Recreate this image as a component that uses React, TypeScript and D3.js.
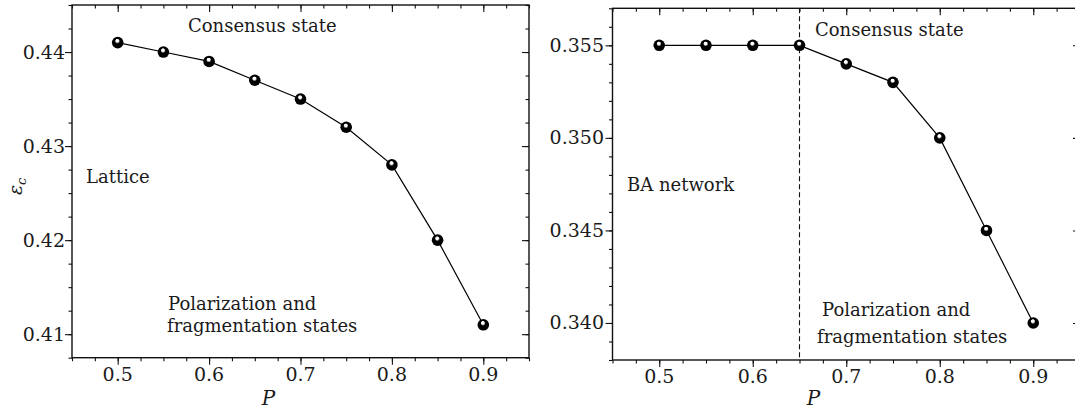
import React, { useEffect, useRef } from "react";
import * as d3 from "d3";

// ---- data ----
const pValues = [0.5, 0.55, 0.6, 0.65, 0.7, 0.75, 0.8, 0.85, 0.9];
const latticeEps = [0.441, 0.44, 0.439, 0.437, 0.435, 0.432, 0.428, 0.42, 0.411];
const baEps = [0.355, 0.355, 0.355, 0.355, 0.354, 0.353, 0.35, 0.345, 0.34];

const xTickLabels = [0.5, 0.6, 0.7, 0.8, 0.9];
const latticeTickLabels = [0.41, 0.42, 0.43, 0.44];
const baTickLabels = [0.34, 0.345, 0.35, 0.355];
const baThresholdP = 0.65;

const FONT = "'DejaVu Serif', 'Liberation Serif', serif";

function App() {
  const ref = useRef<SVGSVGElement | null>(null);

  useEffect(() => {
    drawChart();
  }, []);

  const drawChart = () => {
    const svg = d3.select(ref.current);
    svg.selectAll("*").remove();

    const defs = svg.append("defs");
    const grad = defs
      .append("radialGradient")
      .attr("id", "ball")
      .attr("cx", "50%")
      .attr("cy", "50%")
      .attr("r", "50%")
      .attr("fx", "45%")
      .attr("fy", "28%");
    grad.append("stop").attr("offset", "0%").attr("stop-color", "#fff");
    grad.append("stop").attr("offset", "24%").attr("stop-color", "#fff");
    grad.append("stop").attr("offset", "44%").attr("stop-color", "#000");
    grad.append("stop").attr("offset", "100%").attr("stop-color", "#000");

    const panels = [
      {
        left: 72,
        right: 529,
        top: 5,
        bottom: 357.7,
        yDomain: [0.4075, 0.445],
        yMinorStep: 0.0025,
        yTicks: latticeTickLabels,
        yFormat: d3.format(".2f"),
        yLabelRight: 65,
        values: latticeEps,
        notes: [
          { text: "Consensus state", x: 188, y: 32 },
          { text: "Lattice", x: 86, y: 183 },
          { text: "Polarization and", x: 168, y: 309.5 },
          { text: "fragmentation states", x: 167, y: 332 },
        ],
        dashed: null as number | null,
        yTitle: true,
      },
      {
        left: 612.5,
        right: 1080,
        top: 8.3,
        bottom: 360,
        yDomain: [0.338, 0.357],
        yMinorStep: 0.001,
        yTicks: baTickLabels,
        yFormat: d3.format(".3f"),
        yLabelRight: 604,
        values: baEps,
        notes: [
          { text: "Consensus state", x: 815, y: 36 },
          { text: "BA network", x: 627, y: 191 },
          { text: "Polarization and", x: 822, y: 316 },
          { text: "fragmentation states", x: 817, y: 342.5 },
        ],
        dashed: baThresholdP as number | null,
        yTitle: false,
      },
    ];

    panels.forEach((cfg) => {
      const x = d3.scaleLinear().domain([0.45, 0.95]).range([cfg.left, cfg.right]);
      const y = d3.scaleLinear().domain(cfg.yDomain).range([cfg.bottom, cfg.top]);
      const g = svg.append("g");

      const xMinor = d3.range(0.45, 0.9501, 0.025).map((v) => +v.toFixed(4));
      const yMinor = d3
        .range(cfg.yDomain[0], cfg.yDomain[1] + 1e-6, cfg.yMinorStep)
        .map((v) => +v.toFixed(5));

      const styleAxis = (sel: any) => {
        sel.select(".domain").remove();
        sel.selectAll("line").attr("stroke", "#111").attr("stroke-width", 1.1);
      };

      // minor ticks, all four sides (mirrored ones point inward)
      g.append("g")
        .attr("transform", `translate(0,${cfg.bottom})`)
        .call(d3.axisBottom(x).tickValues(xMinor).tickSize(3.5).tickFormat(() => ""))
        .call(styleAxis);
      g.append("g")
        .attr("transform", `translate(0,${cfg.top})`)
        .call(d3.axisTop(x).tickValues(xMinor).tickSize(-3.5).tickFormat(() => ""))
        .call(styleAxis);
      g.append("g")
        .attr("transform", `translate(${cfg.left},0)`)
        .call(d3.axisLeft(y).tickValues(yMinor).tickSize(3.5).tickFormat(() => ""))
        .call(styleAxis);
      g.append("g")
        .attr("transform", `translate(${cfg.right},0)`)
        .call(d3.axisRight(y).tickValues(yMinor).tickSize(-3.5).tickFormat(() => ""))
        .call(styleAxis);

      // major ticks
      g.append("g")
        .attr("transform", `translate(0,${cfg.bottom})`)
        .call(d3.axisBottom(x).tickValues(xTickLabels).tickSize(7).tickFormat(() => ""))
        .call(styleAxis);
      g.append("g")
        .attr("transform", `translate(0,${cfg.top})`)
        .call(d3.axisTop(x).tickValues(xTickLabels).tickSize(-7).tickFormat(() => ""))
        .call(styleAxis);
      g.append("g")
        .attr("transform", `translate(${cfg.left},0)`)
        .call(d3.axisLeft(y).tickValues(cfg.yTicks).tickSize(7).tickFormat(() => ""))
        .call(styleAxis);
      g.append("g")
        .attr("transform", `translate(${cfg.right},0)`)
        .call(d3.axisRight(y).tickValues(cfg.yTicks).tickSize(-7).tickFormat(() => ""))
        .call(styleAxis);

      // frame
      g.append("rect")
        .attr("x", cfg.left)
        .attr("y", cfg.top)
        .attr("width", cfg.right - cfg.left)
        .attr("height", cfg.bottom - cfg.top)
        .attr("fill", "none")
        .attr("stroke", "#111")
        .attr("stroke-width", 1.4);

      // tick labels
      g.selectAll(".xl")
        .data(xTickLabels)
        .enter()
        .append("text")
        .attr("x", (d) => x(d))
        .attr("y", cfg.bottom + 23)
        .attr("text-anchor", "middle")
        .attr("font-family", FONT)
        .attr("font-size", 19)
        .attr("fill", "#1a1a1a")
        .text((d) => d3.format(".1f")(d));

      g.selectAll(".yl")
        .data(cfg.yTicks)
        .enter()
        .append("text")
        .attr("x", cfg.yLabelRight)
        .attr("y", (d) => y(d) + 6.5)
        .attr("text-anchor", "end")
        .attr("font-family", FONT)
        .attr("font-size", 19)
        .attr("fill", "#1a1a1a")
        .text((d) => cfg.yFormat(d));

      // axis title P
      g.append("text")
        .attr("x", x(0.665))
        .attr("y", 405)
        .attr("text-anchor", "middle")
        .attr("font-family", FONT)
        .attr("font-style", "italic")
        .attr("font-size", 20)
        .attr("fill", "#1a1a1a")
        .text("P");

      if (cfg.yTitle) {
        const t = g
          .append("text")
          .attr("transform", `translate(22,${(cfg.top + cfg.bottom) / 2 + 5}) rotate(-90)`)
          .attr("text-anchor", "middle")
          .attr("font-family", FONT)
          .attr("font-size", 19)
          .attr("fill", "#1a1a1a");
        t.append("tspan").attr("font-style", "italic").text("ε");
        t.append("tspan").attr("font-size", 13).attr("dy", 4).attr("font-style", "italic").text("c");
      }

      // dashed threshold
      if (cfg.dashed !== null) {
        g.append("line")
          .attr("x1", x(cfg.dashed))
          .attr("x2", x(cfg.dashed))
          .attr("y1", cfg.top)
          .attr("y2", cfg.bottom)
          .attr("stroke", "#111")
          .attr("stroke-width", 1.1)
          .attr("stroke-dasharray", "5,3");
      }

      // annotations
      g.selectAll(".note")
        .data(cfg.notes)
        .enter()
        .append("text")
        .attr("x", (d) => d.x)
        .attr("y", (d) => d.y)
        .attr("font-family", FONT)
        .attr("font-size", 18)
        .attr("fill", "#1a1a1a")
        .text((d) => d.text);

      // line + markers
      const line = d3
        .line<number>()
        .x((_, i) => x(pValues[i]))
        .y((d) => y(d));
      g.append("path")
        .attr("d", line(cfg.values))
        .attr("fill", "none")
        .attr("stroke", "#000")
        .attr("stroke-width", 1.2);

      g.selectAll(".pt")
        .data(cfg.values)
        .enter()
        .append("circle")
        .attr("cx", (_, i) => x(pValues[i]))
        .attr("cy", (d) => y(d))
        .attr("r", 5.8)
        .attr("fill", "url(#ball)");
    });
  };

  return (
    <svg
      ref={ref}
      width={1075}
      height={410}
      style={{ position: "absolute", left: 0, top: 0, background: "#fff" }}
    />
  );
}

export default App;
